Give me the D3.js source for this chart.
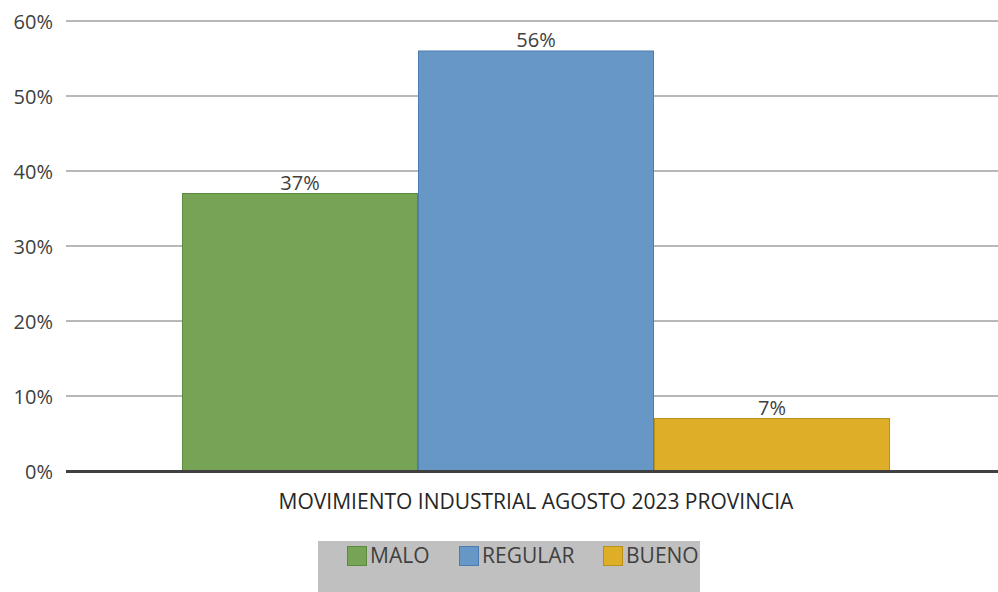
<!DOCTYPE html>
<html>
<head>
<meta charset="utf-8">
<script src="https://cdn.jsdelivr.net/npm/d3@7"></script>
<style>
  body { margin: 0; background: #fff; }
  svg { display: block; font-family: "Open Sans", "Noto Sans", sans-serif; }
</style>
</head>
<body>
<svg width="998" height="592"></svg>
<script>
var category = "MOVIMIENTO INDUSTRIAL AGOSTO 2023 PROVINCIA";
var seriesNames = ["MALO", "REGULAR", "BUENO"];
var seriesValues = [0.37, 0.56, 0.07];
var seriesColors = ["#76a354", "#6797c4", "#dfae29"];
var seriesStrokes = ["#5c8a3c", "#4a7db3", "#b99018"];
var yTicks = [0, 0.1, 0.2, 0.3, 0.4, 0.5, 0.6];

var svg = d3.select("svg"),
    width = +svg.attr("width"),
    height = +svg.attr("height");

var plotLeft = 66, plotRight = 1006, plotTop = 21, plotBottom = 471;
var fs = 20;

var y = d3.scaleLinear().domain([0, 0.6]).range([plotBottom, plotTop]);

var x0 = d3.scaleBand()
    .domain([category])
    .range([plotLeft, plotRight])
    .paddingInner(0)
    .paddingOuter(0.1638);

var x1 = d3.scaleBand()
    .domain(seriesNames)
    .range([0, x0.bandwidth()]);

var pct = d3.format(".0%");

// gridlines
svg.append("g")
    .selectAll("line")
    .data(yTicks.filter(function (d) { return d > 0; }))
    .enter().append("line")
    .attr("x1", plotLeft)
    .attr("x2", width)
    .attr("y1", function (d) { return y(d); })
    .attr("y2", function (d) { return y(d); })
    .attr("stroke", "#b8b8b8")
    .attr("stroke-width", 2);

// y axis labels
var yAxis = svg.append("g")
    .attr("transform", "translate(" + (plotLeft - 13) + ",0)")
    .call(d3.axisLeft(y).tickValues(yTicks).tickFormat(pct).tickSize(0).tickPadding(0));
yAxis.select(".domain").remove();
yAxis.selectAll("text")
    .attr("font-family", "'Open Sans', sans-serif")
    .attr("font-size", fs)
    .attr("fill", "#404040")
    .attr("dy", "0.36em");

var data = seriesNames.map(function (n, i) {
    return { name: n, value: seriesValues[i], color: seriesColors[i], stroke: seriesStrokes[i] };
});

var g = svg.append("g")
    .attr("transform", "translate(" + x0(category) + ",0)");

g.selectAll("rect")
    .data(data)
    .enter().append("rect")
    .attr("x", function (d) { return x1(d.name) + 0.5; })
    .attr("y", function (d) { return y(d.value); })
    .attr("width", x1.bandwidth() - 1)
    .attr("height", function (d) { return plotBottom - y(d.value); })
    .attr("fill", function (d) { return d.color; })
    .attr("stroke", function (d) { return d.stroke; })
    .attr("stroke-width", 1);

g.selectAll("text.lbl")
    .data(data)
    .enter().append("text")
    .attr("class", "lbl")
    .attr("x", function (d) { return x1(d.name) + x1.bandwidth() / 2; })
    .attr("y", function (d) { return y(d.value) - 4; })
    .attr("text-anchor", "middle")
    .attr("font-size", fs)
    .attr("fill", "#404040")
    .text(function (d) { return pct(d.value); });

// baseline
svg.append("line")
    .attr("x1", plotLeft)
    .attr("x2", width)
    .attr("y1", plotBottom + 0.5)
    .attr("y2", plotBottom + 0.5)
    .attr("stroke", "#404040")
    .attr("stroke-width", 3);

// category label
svg.append("text")
    .attr("x", x0(category) + x0.bandwidth() / 2)
    .attr("y", 509)
    .attr("text-anchor", "middle")
    .attr("font-size", 21)
    .attr("fill", "#262626")
    .text(category);

// legend
var legend = svg.append("g");
legend.append("rect")
    .attr("x", 318)
    .attr("y", 541)
    .attr("width", 382)
    .attr("height", 60)
    .attr("fill", "#c0c0c0");

var legendX = [347, 459, 603];
var items = legend.selectAll("g.item")
    .data(data)
    .enter().append("g")
    .attr("class", "item")
    .attr("transform", function (d, i) { return "translate(" + legendX[i] + ",546)"; });

items.append("rect")
    .attr("x", 0.5)
    .attr("y", 0.5)
    .attr("width", 19)
    .attr("height", 19)
    .attr("fill", function (d) { return d.color; })
    .attr("stroke", function (d) { return d.stroke; });

items.append("text")
    .attr("x", 23)
    .attr("y", 17)
    .attr("font-size", 21)
    .attr("fill", "#404040")
    .text(function (d) { return d.name; });
</script>
</body>
</html>
